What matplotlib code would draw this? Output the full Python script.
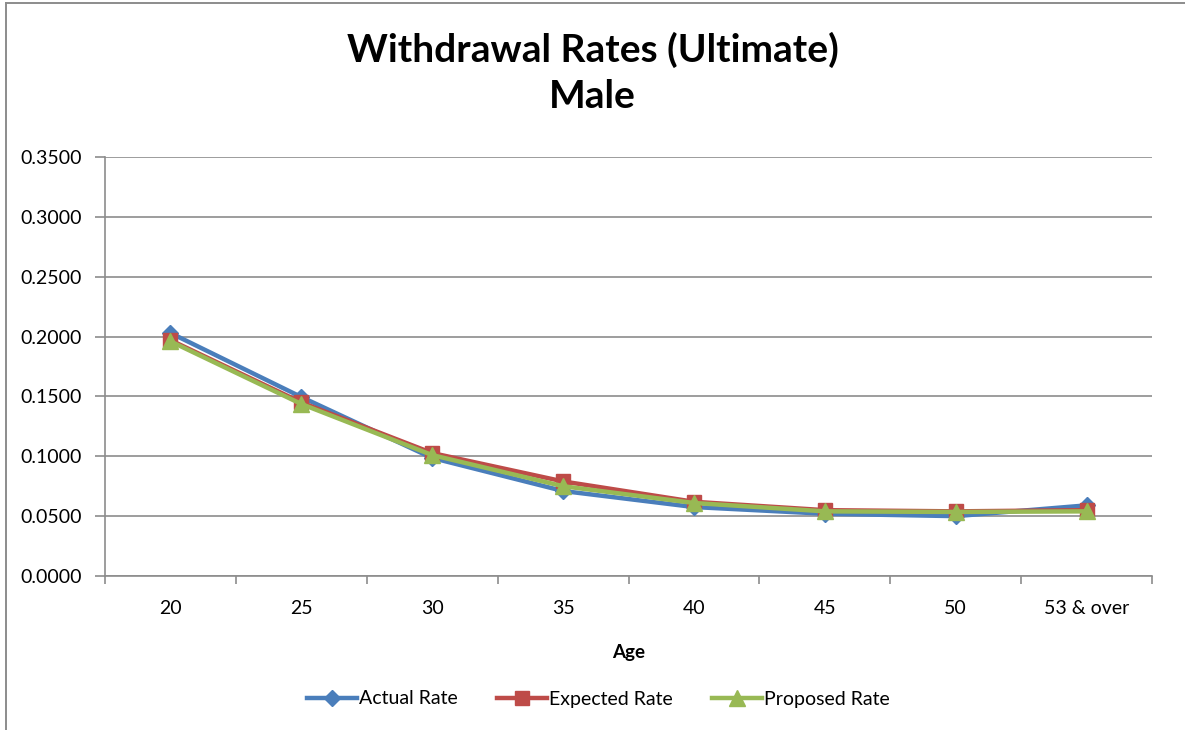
import numpy as np
import matplotlib
matplotlib.use("Agg")
from matplotlib import pyplot as plt
from matplotlib.lines import Line2D

ages = ["20", "25", "30", "35", "40", "45", "50", "53 & over"]
actual_rate = [0.203, 0.1495, 0.0986, 0.071, 0.0576, 0.052, 0.050, 0.059]
expected_rate = [0.197, 0.145, 0.1027, 0.079, 0.062, 0.055, 0.054, 0.055]
proposed_rate = [0.196, 0.1437, 0.101, 0.075, 0.061, 0.054, 0.0535, 0.054]
y_ticks = [0.0, 0.05, 0.10, 0.15, 0.20, 0.25, 0.30, 0.35]

plt.rcParams["font.family"] = ["Lato", "DejaVu Sans"]

W, H = 1185, 730
fig = plt.figure(figsize=(W / 100, H / 100), dpi=100)
ax = fig.add_axes([105 / W, 1 - 576 / H, (1152 - 105) / W, (576 - 157) / H])

# outer chart frame, only its left and top edges fall inside the image
frame_col = "#8c8c8c"
fig.lines.append(Line2D([5.5 / W, 5.5 / W], [0, 1 - 3 / H], transform=fig.transFigure,
                        color=frame_col, lw=1.4))
fig.lines.append(Line2D([5.5 / W, 1], [1 - 3 / H, 1 - 3 / H], transform=fig.transFigure,
                        color=frame_col, lw=1.4))

x = np.arange(len(ages))
ax.plot(x, actual_rate, color="#4A7EBB", lw=3.2, marker="D", ms=8,
        label="Actual Rate", zorder=3)
ax.plot(x, expected_rate, color="#BE4B48", lw=3.2, marker="s", ms=10,
        label="Expected Rate", zorder=4)
ax.plot(x, proposed_rate, color="#98B954", lw=3.2, marker="^", ms=11,
        label="Proposed Rate", zorder=5)

ax.set_xlim(-0.5, len(ages) - 0.5)
ax.set_ylim(0, 0.35)
ax.set_yticks(y_ticks)
ax.set_yticklabels([f"{v:.4f}" for v in y_ticks], fontsize=14)
ax.set_xticks(x)
ax.set_xticklabels(ages, fontsize=14)
ax.set_xticks(np.arange(-0.5, len(ages)), minor=True)
ax.tick_params(axis="x", which="major", length=0, pad=17)
ax.tick_params(axis="x", which="minor", length=6, color=frame_col, width=1.2)
ax.tick_params(axis="y", length=7, color=frame_col, width=1.2, pad=10)

ax.grid(True, axis="y", color=frame_col, lw=1.2)
ax.set_axisbelow(True)
for side in ["top", "right"]:
    ax.spines[side].set_visible(False)
for side in ["left", "bottom"]:
    ax.spines[side].set_color(frame_col)
    ax.spines[side].set_linewidth(1.2)

ax.set_xlabel("Age", fontsize=13.5, fontweight="bold", labelpad=20)
fig.text(0.5, 1 - 50 / H, "Withdrawal Rates (Ultimate)", ha="center", va="center",
         fontsize=28, fontweight="bold")
fig.text(0.5, 1 - 97 / H, "Male", ha="center", va="center",
         fontsize=28, fontweight="bold")

fig.legend(loc="center", bbox_to_anchor=(0.505, 1 - 699 / H), ncol=3, frameon=False,
           fontsize=14, handlelength=2.6, columnspacing=2.0, handletextpad=0.1)

fig.savefig("out.png", dpi=100)
